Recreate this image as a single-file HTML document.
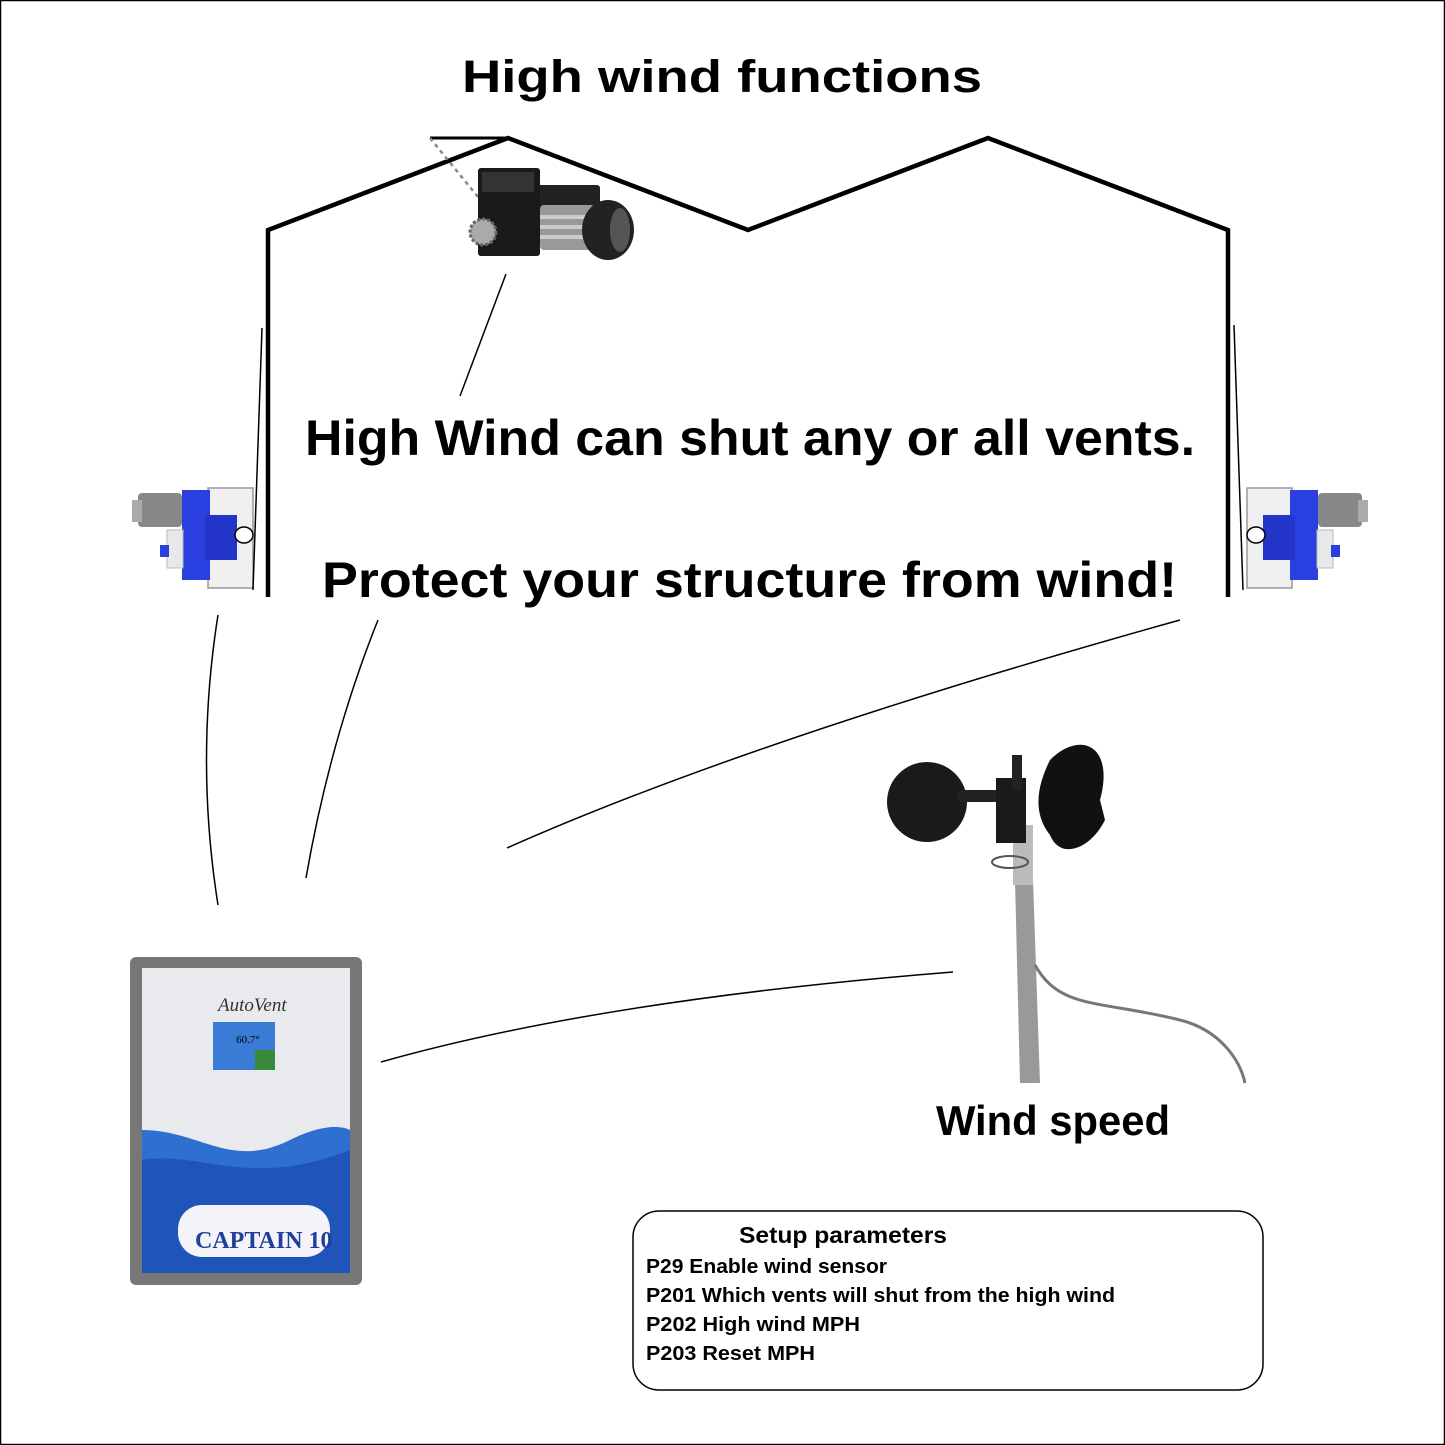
<!DOCTYPE html>
<html><head><meta charset="utf-8"><style>html,body{margin:0;padding:0;background:#fff}svg{display:block}</style></head>
<body>
<svg width="1445" height="1445" viewBox="0 0 1445 1445" xmlns="http://www.w3.org/2000/svg" font-family="Liberation Sans, sans-serif">
<rect x="0.5" y="0.5" width="1444" height="1444" fill="#fff" stroke="#000" stroke-width="1.5"/>
<text x="722" y="92" text-anchor="middle" font-size="45" font-weight="bold" textLength="520" lengthAdjust="spacingAndGlyphs">High wind functions</text>
<!-- roof -->
<polyline points="268,597 268,230 508,138 748,230 988,138 1228,230 1228,597" fill="none" stroke="#000" stroke-width="4.5"/>
<line x1="430" y1="138" x2="508" y2="138" stroke="#000" stroke-width="3"/>
<line x1="430" y1="138" x2="478" y2="197" stroke="#888" stroke-width="2.5" stroke-dasharray="4,4"/>
<!-- top motor -->
<g>
<rect x="478" y="168" width="62" height="88" fill="#1a1a1a" rx="3"/>
<rect x="482" y="172" width="52" height="20" fill="#333"/>
<rect x="540" y="185" width="28" height="60" fill="#222"/>
<rect x="545" y="185" width="55" height="22" fill="#222" rx="3"/>
<rect x="540" y="205" width="55" height="45" fill="#999" rx="4"/>
<rect x="540" y="215" width="55" height="4" fill="#ccc"/>
<rect x="540" y="225" width="55" height="4" fill="#ccc"/>
<rect x="540" y="235" width="55" height="4" fill="#ccc"/>
<ellipse cx="608" cy="230" rx="26" ry="30" fill="#222"/>
<ellipse cx="620" cy="230" rx="10" ry="22" fill="#555"/>
<circle cx="483" cy="232" r="13" fill="#aaa" stroke="#666" stroke-width="3" stroke-dasharray="3,2"/>
</g>
<!-- left side motor -->
<g id="sm">
<rect x="138" y="493" width="44" height="34" fill="#888" rx="4"/>
<rect x="132" y="500" width="10" height="22" fill="#aaa"/>
<rect x="208" y="488" width="45" height="100" fill="#f0f0f0" stroke="#999" stroke-width="1.5"/>
<rect x="182" y="490" width="28" height="90" fill="#2a3fe0"/>
<rect x="205" y="515" width="32" height="45" fill="#2335c8"/>
<rect x="167" y="530" width="16" height="38" fill="#e8e8e8" stroke="#bbb"/>
<rect x="160" y="545" width="9" height="12" fill="#2a3fe0"/>
<ellipse cx="244" cy="535" rx="9" ry="8" fill="#fff" stroke="#000" stroke-width="1.5"/>
</g>
<use href="#sm" transform="translate(1500,0) scale(-1,1)"/>
<!-- thin lines -->
<g fill="none" stroke="#000" stroke-width="1.5">
<line x1="262" y1="328" x2="253" y2="590"/>
<line x1="1234" y1="325" x2="1243" y2="590"/>
<line x1="506" y1="274" x2="460" y2="396"/>
<path d="M218,615 Q195,760 218,905"/>
<path d="M378,620 Q330,740 306,878"/>
<path d="M1180,620 Q750,740 507,848"/>
<path d="M953,972 Q600,1000 381,1062"/>
</g>
<text x="305" y="455" font-size="50" font-weight="bold" textLength="890" lengthAdjust="spacingAndGlyphs">High Wind can shut any or all vents.</text>
<text x="322" y="597" font-size="50" font-weight="bold" textLength="855" lengthAdjust="spacingAndGlyphs">Protect your  structure from wind!</text>
<!-- anemometer -->
<g>
<path d="M1015,880 L1020,1083 L1040,1083 L1033,880 Z" fill="#999"/>
<rect x="1013" y="825" width="20" height="60" fill="#bbb"/>
<ellipse cx="1010" cy="862" rx="18" ry="6" fill="none" stroke="#555" stroke-width="2"/>
<path d="M1035,965 C1060,1010 1100,1000 1180,1020 C1220,1030 1240,1060 1245,1083" fill="none" stroke="#777" stroke-width="3"/>
<circle cx="927" cy="802" r="40" fill="#1a1a1a"/>
<rect x="958" y="790" width="40" height="12" fill="#222"/>
<rect x="996" y="778" width="30" height="65" fill="#1a1a1a"/>
<rect x="1012" y="755" width="10" height="35" fill="#222"/>
<path d="M1050,760 C1080,730 1115,745 1100,800 L1105,820 C1090,850 1060,860 1050,835 C1030,810 1040,780 1050,760 Z" fill="#111"/>
</g>
<text x="936" y="1135" font-size="42" font-weight="bold" textLength="234" lengthAdjust="spacingAndGlyphs">Wind speed</text>
<!-- controller -->
<g>
<rect x="130" y="957" width="232" height="328" fill="#777" rx="6"/>
<rect x="142" y="968" width="208" height="305" fill="#e8eaee"/>
<path d="M142,1130 C200,1130 230,1170 290,1140 C320,1125 340,1125 350,1130 L350,1273 L142,1273 Z" fill="#2e6fd0"/>
<path d="M142,1160 C200,1150 250,1190 350,1150 L350,1273 L142,1273 Z" fill="#1f55b8"/>
<rect x="213" y="1022" width="62" height="48" fill="#3a7bd5"/>
<rect x="255" y="1050" width="20" height="20" fill="#3a8a3a"/>
<text x="248" y="1043" font-size="11" text-anchor="middle" font-family="Liberation Serif, serif">60.7°</text>
<text x="218" y="1011" font-size="19" font-style="italic" font-family="Liberation Serif, serif" fill="#333">AutoVent</text>
<rect x="178" y="1205" width="152" height="52" rx="24" fill="#f4f4f8"/>
<text x="195" y="1248" font-size="24" font-weight="bold" font-family="Liberation Serif, serif" fill="#1f3f9a">CAPTAIN 10</text>
</g>
<!-- setup box -->
<rect x="633" y="1211" width="630" height="179" rx="26" fill="#fff" stroke="#000" stroke-width="1.5"/>
<g font-weight="bold" fill="#000">
<text x="739" y="1243" font-size="23" textLength="208" lengthAdjust="spacingAndGlyphs">Setup parameters</text>
<text x="646" y="1273" font-size="20" textLength="241" lengthAdjust="spacingAndGlyphs">P29  Enable wind sensor</text>
<text x="646" y="1302" font-size="20" textLength="469" lengthAdjust="spacingAndGlyphs">P201  Which vents will shut from the high wind</text>
<text x="646" y="1331" font-size="20" textLength="214" lengthAdjust="spacingAndGlyphs">P202  High wind MPH</text>
<text x="646" y="1360" font-size="20" textLength="169" lengthAdjust="spacingAndGlyphs">P203  Reset MPH</text>
</g>
</svg>
</body></html>
